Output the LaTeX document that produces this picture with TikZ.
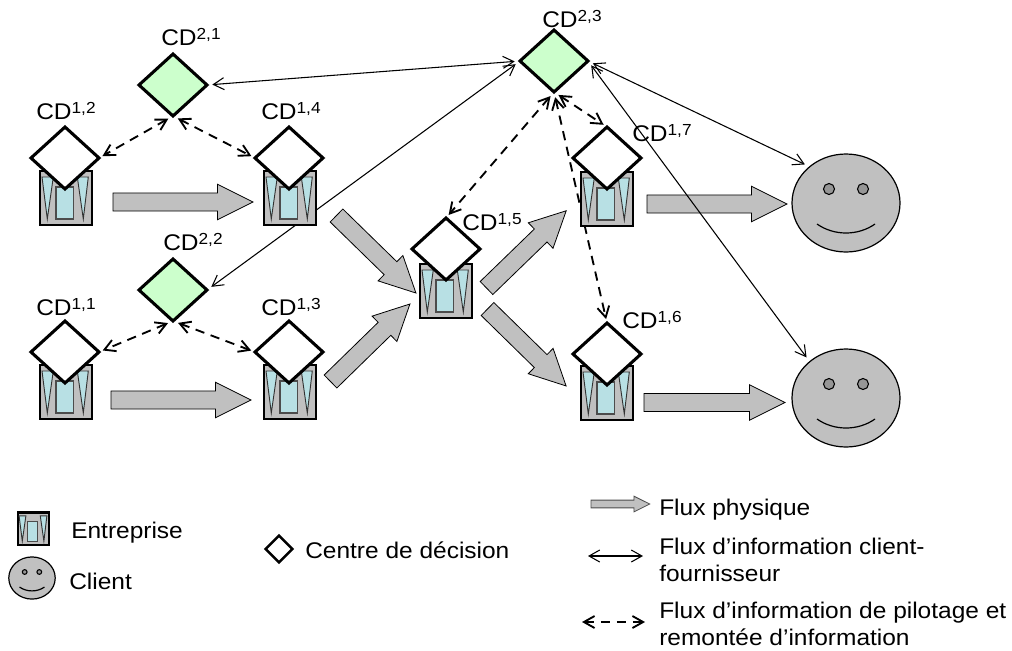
\documentclass[tikz,border=0pt]{standalone}
\usepackage{fontspec}
\setmainfont[FakeStretch=1.08]{Liberation Sans}
\usetikzlibrary{arrows.meta,backgrounds,shapes.geometric,shapes.arrows,calc}

\definecolor{grisflux}{HTML}{C0C0C0}
\definecolor{vertcd}{HTML}{CCFFCC}
\definecolor{bleuent}{HTML}{B8E0E4}
\definecolor{grisoeil}{HTML}{969696}

\tikzset{
    cdnode/.style={diamond, draw=black, line width=2.3pt, fill=white, aspect=1, inner sep=0pt, outer sep=0pt,
            minimum width=51pt, minimum height=46.5pt},
    cdhaut/.style={cdnode, fill=vertcd},
    cdlabel/.style={anchor=base west, inner sep=0pt, font=\fontsize{17}{20}\selectfont},
    legtext/.style={anchor=base west, inner sep=0pt, align=left, font=\fontsize{17}{20}\selectfont},
    fluxphys/.style={single arrow, anchor=tail, draw=black, line width=.6pt, fill=grisflux, inner xsep=0pt, inner ysep=6.5pt, outer sep=0pt,
            minimum height=#1*0.75pt, single arrow head extend=6.5pt,
            single arrow tip angle=53, single arrow head indent=0pt},
    fluxclient/.style={<->, line width=.8pt, shorten <=4pt, shorten >=4pt},
    fluxpilot/.style={<->, line width=1.4pt, dash pattern=on 7pt off 5pt, shorten <=4pt, shorten >=3pt},
    >={Straight Barb[length=8pt,width=9pt]}
}

\newcommand{\cdsup}[1]{\raisebox{4.5pt}{\fontsize{12}{12}\selectfont #1}}

\newcommand{\entreprise}[3]{
    \begin{scope}[shift={(#1,#2)},scale=#3]
        \draw[fill=grisflux, line width=1.8pt] (-26,-27) rectangle (26,27);
        \draw[fill=bleuent, draw=black!80, line width=.7pt] (-24,-21) -- (-12.7,-21) -- (-18.7,21) -- cycle;
        \draw[fill=bleuent, draw=black!80, line width=.7pt] (11.3,-21) -- (22.3,-21) -- (17.3,21) -- cycle;
        \draw[fill=bleuent, draw=black!70, line width=.8pt] (-10,-11) rectangle (7.3,21);
    \end{scope}
}

\newcommand{\client}[4]{
    \node[ellipse, draw=black, line width=.9pt, fill=grisflux, inner sep=0pt, outer sep=0pt,
        minimum width=#4*81pt, minimum height=#4*73.5pt] (#1) at (#2,#3) {};
    \begin{scope}[shift={(#2,#3)},scale=#4]
        \draw[fill=grisoeil, line width=.8pt] (-17,-14) circle[radius=5.5];
        \draw[fill=grisoeil, line width=.8pt] (17,-14) circle[radius=5.5];
        \draw[line width=.9pt] (-29,21) .. controls (-12,33) and (12,33) .. (29,21);
    \end{scope}
}

\begin{document}
\begin{tikzpicture}[x=0.75pt,y=-0.75pt]
    \useasboundingbox (0,0) rectangle (1012,650);

    \entreprise{66}{198}{1}
    \entreprise{290}{198}{1}
    \entreprise{66}{392}{1}
    \entreprise{290}{392}{1}
    \entreprise{446}{291}{1}
    \entreprise{607}{199}{1}
    \entreprise{607}{393}{1}

    \node[cdhaut] (cd21) at (173,85) {};
    \node[cdhaut] (cd22) at (173,290) {};
    \node[cdhaut] (cd23) at (554,61) {};
    \node[cdnode] (cd12) at (65,158) {};
    \node[cdnode] (cd14) at (289,158) {};
    \node[cdnode] (cd11) at (65,352) {};
    \node[cdnode] (cd13) at (289,352) {};
    \node[cdnode] (cd15) at (446,249) {};
    \node[cdnode] (cd17) at (607,158) {};
    \node[cdnode] (cd16) at (607,354) {};

    \node[cdlabel] (l21) at (161,45) {CD\cdsup{2,1}};
    \node[cdlabel] (l22) at (163,250) {CD\cdsup{2,2}};
    \node[cdlabel] (l23) at (542,27) {CD\cdsup{2,3}};
    \node[cdlabel] (l12) at (36,119) {CD\cdsup{1,2}};
    \node[cdlabel] (l14) at (261,119) {CD\cdsup{1,4}};
    \node[cdlabel] (l11) at (36,315) {CD\cdsup{1,1}};
    \node[cdlabel] (l13) at (261,315) {CD\cdsup{1,3}};
    \node[cdlabel] (l15) at (462,230) {CD\cdsup{1,5}};
    \node[cdlabel] (l17) at (632,141) {CD\cdsup{1,7}};
    \node[cdlabel] (l16) at (622,328) {CD\cdsup{1,6}};

    \client{c1}{846}{203}{1}
    \client{c2}{846}{398}{1}

    \begin{pgfonlayer}{background}
        \node[fluxphys=140] (f1) at (113,202) {};
        \node[fluxphys=140] (f2) at (111,400) {};
        \node[fluxphys=111, rotate=-44.3] (f3) at (336.5,215.5) {};
        \node[fluxphys=111, rotate=44.3] (f4) at (330.5,381.5) {};
        \node[fluxphys=111, rotate=44.1] (f5) at (486.5,288) {};
        \node[fluxphys=110, rotate=-44.4] (f6) at (487.5,309) {};
        \node[fluxphys=140] (f7) at (647,204) {};
        \node[fluxphys=141] (f8) at (644,402.5) {};

        \path[fluxclient] (cd21.east) edge (cd23.west);
        \path[fluxclient] (cd22.east) edge (cd23.west);
        \path[fluxclient] (cd23.east) edge (c1.135);
        \path[fluxclient] (cd23.east) edge (c2.135);

        \path[fluxpilot] (cd21.south) edge (cd12.east);
        \path[fluxpilot] (cd21.south) edge (cd14.west);
        \path[fluxpilot] (cd22.south) edge (cd11.east);
        \path[fluxpilot] (cd22.south) edge (cd13.west);
        \path[fluxpilot] (cd23.south) edge (cd15.north);
        \path[fluxpilot] (cd23.south) edge (cd17.north);
        \path[fluxpilot] (cd23.south) edge (cd16.north);
    \end{pgfonlayer}

    \entreprise{33.5}{528.5}{0.6}
    \client{c0}{32}{578}{0.43}
    \node[cdnode, minimum width=20pt, minimum height=20pt, line width=1.8pt] (cd0) at (279,549) {};

    \node[legtext] (tent) at (71,538) {Entreprise};
    \node[legtext] (tcli) at (69,589) {Client};
    \node[legtext] (tcen) at (305,558) {Centre de décision};

    \node[single arrow, anchor=tail, draw=black!70, line width=.6pt, fill=grisflux, inner xsep=0pt, inner ysep=2.6pt, outer sep=0pt,
        minimum height=44pt, single arrow head extend=3pt,
        single arrow tip angle=53, single arrow head indent=0pt] (lf1) at (591,504) {};
    \node[legtext] (t1) at (659,515) {Flux physique};

    \coordinate (a1) at (588,556);
    \coordinate (a2) at (643,556);
    \draw[<->, line width=.8pt] (a1) -- (a2);
    \node[legtext, anchor=west] (t2) at (659,560) {Flux d’information client-\\fournisseur};

    \coordinate (b1) at (582,622);
    \coordinate (b2) at (645,622);
    \draw[<->, line width=1.4pt, dash pattern=on 7pt off 5pt] (b1) -- (b2);
    \node[legtext, anchor=west] (t3) at (659,624) {Flux d’information de pilotage et\\remontée d’information};
\end{tikzpicture}
\end{document}
